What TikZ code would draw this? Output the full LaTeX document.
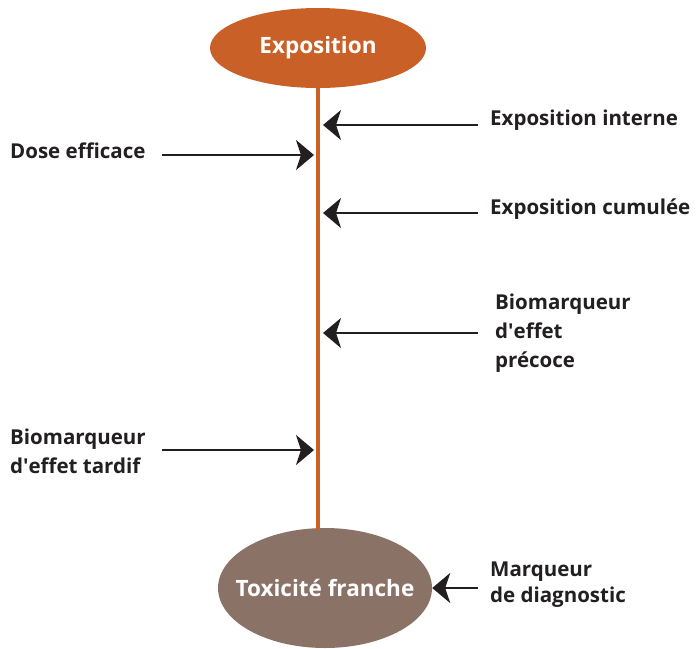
\documentclass[tikz,border=0pt]{standalone}
\usepackage{fontspec}
\setmainfont{Open Sans}
\usetikzlibrary{arrows.meta,shapes.geometric}
\definecolor{orangeexpo}{RGB}{201,96,40}
\definecolor{bruntox}{RGB}{139,114,102}
\definecolor{noirtexte}{RGB}{35,31,32}
\tikzset{
  etiquette/.style={anchor=west,align=left,text=noirtexte,font=\fontsize{20.5}{29}\selectfont\bfseries,inner sep=0pt},
  fleche/.style={draw=noirtexte,line width=2.4pt,-{Stealth[length=18pt,width=30pt,inset=5pt]}},
  bulle/.style={ellipse,inner sep=0pt,inner xsep=-30pt,text=white,font=\fontsize{22.5}{26}\selectfont\bfseries}
}
\begin{document}
\begin{tikzpicture}[x=1pt,y=-1pt]
  \useasboundingbox (0,0) rectangle (696,648);
  % les deux etats
  \node[bulle,fill=orangeexpo,minimum width=216pt,minimum height=80pt] (expo) at (318,48) {Exposition};
  \node[bulle,fill=bruntox,minimum width=214pt,minimum height=120pt] (toxi) at (325,588) {Toxicit\'e franche};
  \draw[orangeexpo,line width=4.5pt] (318,86) coordinate (haut) -- (318,530) coordinate (bas);
  % etiquettes
  \node[etiquette] (interne) at (490,120) {Exposition interne};
  \node[etiquette] (dose) at (10,151) {Dose efficace};
  \node[etiquette] (cumul) at (490,209) {Exposition cumul\'ee};
  \node[etiquette] (precoce) at (495,333) {Biomarqueur\\d\textquotesingle effet\\pr\'ecoce};
  \node[etiquette] (tardif) at (10,451) {Biomarqueur\\d\textquotesingle effet tardif};
  \node[etiquette,font=\fontsize{20.5}{26}\selectfont\bfseries] (diag) at (490,585) {Marqueur\\de diagnostic};
  % fleches
  \coordinate (a1) at (478,125);
  \coordinate (a2) at (162,155);
  \coordinate (a3) at (478,213);
  \coordinate (a4) at (478,333);
  \coordinate (a5) at (162,450);
  \coordinate (a6) at (478,588);
  \draw[fleche] (a1) -- (323,125);
  \draw[fleche] (a2) -- (314,155);
  \draw[fleche] (a3) -- (323,213);
  \draw[fleche] (a4) -- (323,333);
  \draw[fleche] (a5) -- (314,450);
  \draw[fleche] (a6) -- (toxi.east |- a6);
\end{tikzpicture}
\end{document}
